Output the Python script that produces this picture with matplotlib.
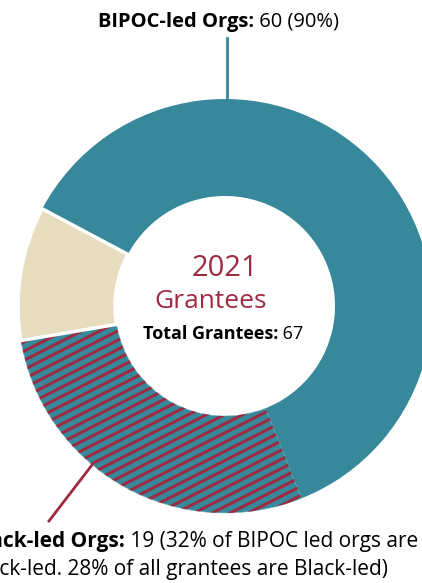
import numpy as np
import matplotlib
matplotlib.use("Agg")
import matplotlib.pyplot as plt

plt.rcParams['font.family'] = ['Open Sans', 'DejaVu Sans']

# data
labels = ['Non-BIPOC-led', 'Black-led', 'Other BIPOC-led']
counts = [7, 19, 41]
total = 67
bipoc = 60

teal = '#36889A'
beige = '#E7DCBD'
red = '#9E2A42'

W, H = 422, 583
fig = plt.figure(figsize=(W / 100, H / 100), dpi=100)
ax = fig.add_axes([0, 0, 1, 1])

cx, cy = 225, H - 306
R = 207
wedges, _ = ax.pie(counts, colors=[beige, teal, teal], startangle=152,
                   counterclock=True, center=(cx, cy), radius=R,
                   wedgeprops=dict(width=97, linewidth=0))
wedges[0].set_edgecolor('white')
wedges[0].set_linewidth(2.5)
wedges[0].set_zorder(5)
wedges[1].set_edgecolor('#8fc0ca')
wedges[1].set_linewidth(0.4)

# diagonal stripes on the Black-led wedge
ang = np.deg2rad(27)
d = np.array([np.cos(ang), np.sin(ang)])
n = np.array([-np.sin(ang), np.cos(ang)])
for off in np.arange(-400, 400, 8.2):
    p0 = np.array([cx, cy]) + n * off - d * 400
    p1 = np.array([cx, cy]) + n * off + d * 400
    ln, = ax.plot([p0[0], p1[0]], [p0[1], p1[1]], color=red, lw=2.2,
                  solid_capstyle='butt', zorder=3)
    ln.set_clip_path(wedges[1])

# leader lines
ax.plot([227, 227], [H - 38, H - 102], color=teal, lw=2, zorder=1)
ax.plot([49, 92], [H - 521, H - 465], color=red, lw=2, zorder=1)

# centre text
ax.text(225, H - 269, '2021', ha='center', va='center', color=red, fontsize=21)
ax.text(211, H - 301, 'Grantees', ha='center', va='center', color=red, fontsize=19)
t = ax.text(278, H - 339, 'Total Grantees:', ha='right', va='baseline',
            fontsize=13, fontweight='bold', color='black')
ax.annotate(f' {total}', xy=(1, 0), xycoords=t, va='bottom', ha='left',
            fontsize=13, color='black')

# top label
t = ax.text(254, H - 27, 'BIPOC-led Orgs:', ha='right', va='baseline',
            fontsize=14.5, fontweight='bold')
ax.annotate(f' {bipoc} (90%)', xy=(1, 0), xycoords=t, va='bottom', ha='left',
            fontsize=14.5)

# bottom label
t = ax.text(418, H - 547, f' {counts[1]} (32% of BIPOC led orgs are',
            ha='right', va='baseline', fontsize=15)
ax.annotate('Black-led Orgs:', xy=(0, 0), xycoords=t, va='bottom', ha='right',
            fontsize=15, fontweight='bold')
ax.text(388, H - 575, 'Black-led. 28% of all grantees are Black-led)',
        ha='right', va='baseline', fontsize=15)

ax.set_xlim(0, W)
ax.set_ylim(0, H)
ax.set_aspect('equal')
ax.axis('off')
fig.savefig('out.png', dpi=100)
